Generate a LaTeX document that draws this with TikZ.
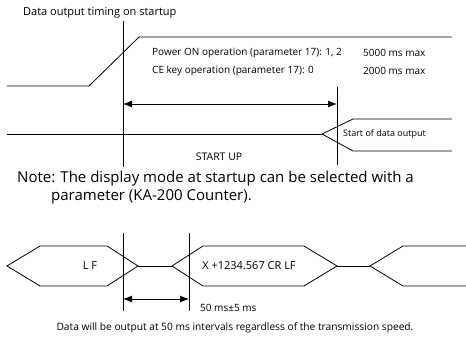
\documentclass[tikz,border=0pt]{standalone}
\usepackage{fontspec}
\setmainfont{Open Sans}
\usetikzlibrary{arrows.meta}
\tikzset{
  sig/.style={line width=0.8pt},
  marker/.style={line width=0.8pt},
  dimline/.style={line width=0.8pt, {Latex[length=9pt,width=7pt]}-{Latex[length=9pt,width=7pt]}},
  lbl/.style={inner sep=0pt, anchor=west, font=\fontsize{10}{12}\selectfont},
  bigtext/.style={inner sep=0pt, anchor=center, font=\fontsize{11}{13}\selectfont},
  notetext/.style={inner sep=0pt, anchor=west, font=\fontsize{15}{18}\selectfont},
}
\begin{document}
\begin{tikzpicture}[x=1pt, y=-1pt]
  \useasboundingbox (0,0) rectangle (466,344);

  % Startup timing
  \node[lbl, font=\fontsize{11}{13}\selectfont] (title) at (23,13) {Data output timing on startup};
  \coordinate (ona) at (123,21);
  \coordinate (onb) at (123,167);
  \coordinate (outa) at (337,87);
  \coordinate (outb) at (337,165);
  \draw[marker] (ona) -- (onb);
  \draw[marker] (outa) -- (outb);

  \draw[sig] (7,86) -- (89,86) -- (139,37) -- (452,37);
  \node[lbl] (pwr) at (152,53) {Power ON operation (parameter 17): 1, 2};
  \node[lbl] (ce) at (152,71) {CE key operation (parameter 17): 0};
  \node[lbl] (pwrmax) at (363,53) {5000 ms max};
  \node[lbl] (cemax) at (363,71) {2000 ms max};

  \coordinate (dl) at (123,104);
  \coordinate (dr) at (337,104);
  \draw[dimline] (dl) -- (dr);

  \coordinate (split) at (322,134);
  \draw[sig] (7,134) -- (split);
  \draw[sig] (split) -- (353,119) -- (452,119);
  \draw[sig] (split) -- (353,151) -- (452,151);
  \node[lbl, font=\fontsize{9}{11}\selectfont] (start) at (343,134) {Start of data output};
  \node[lbl, anchor=center, font=\fontsize{10.5}{12}\selectfont] (startup) at (219,157) {START UP};

  % Note
  \node[notetext] (note1) at (17,179) {Note: The display mode at startup can be selected with a};
  \node[notetext] (note2) at (51,197) {parameter (KA-200 Counter).};

  % Interval timing
  \coordinate (ia) at (123,233);
  \coordinate (ib) at (123,311);
  \coordinate (ja) at (189,233);
  \coordinate (jb) at (189,311);
  \draw[marker] (ia) -- (ib);
  \draw[marker] (ja) -- (jb);

  \draw[sig] (7,266) -- (40,246) -- (107,246) -- (138,266) -- (107,286) -- (40,286) -- cycle;
  \draw[sig] (138,266) -- (172,266);
  \draw[sig] (172,266) -- (203,246) -- (304,246) -- (337,266) -- (304,286) -- (203,286) -- cycle;
  \draw[sig] (337,266) -- (370,266);
  \draw[sig] (466,246) -- (403,246) -- (370,266) -- (403,286) -- (466,286);
  \node[bigtext] (lf) at (90,266) {L F};
  \node[bigtext] (data) at (249,266) {X +1234.567 CR LF};

  \coordinate (kl) at (123,299);
  \coordinate (kr) at (189,299);
  \draw[dimline] (kl) -- (kr);
  \node[lbl] (gap) at (200,308) {50 ms±5 ms};

  \node[lbl, font=\fontsize{10.2}{12}\selectfont, anchor=center] (caption) at (235,328) {Data will be output at 50 ms intervals regardless of the transmission speed.};
\end{tikzpicture}
\end{document}
